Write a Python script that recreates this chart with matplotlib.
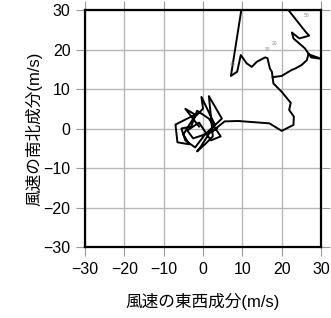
import matplotlib
matplotlib.use("Agg")
import matplotlib.pyplot as plt

# hodograph trace (u, v) in m/s
u = [-1.0, -4.5, -2.0, -4.0, -7.0, -6.5, -3.5, -5.0, -2.5, 0.0, -0.4, 3.0,
     -0.5, -1.5, 0.5, 2.5, 1.5, 4.8, 0.5, -2.5, -4.0, -1.0, 2.0, 4.5, 1.5,
     -1.5, -3.0, -5.5, -4.5, -2.0, 0.5, 3.5, 2.0, 5.5, 9.0, 16.9, 20.0, 23.0,
     23.1, 21.9, 22.3, 20.0, 17.9, 17.7,
     20.0, 22.5, 23.5, 25.1, 26.4, 26.8, 30.2, 27.5, 25.9, 24.5, 23.0,
     22.6, 24.5, 27.0, 25.9, 21.7, 21.0, 10.0, 9.9,
     7.1, 8.7, 9.6, 11.1, 12.4, 13.7, 15.8, 16.4, 17.0, 17.5, 17.7]
v = [0.5, 5.0, 3.5, 2.5, 1.0, -3.5, -4.0, -1.5, 2.5, 5.0, 8.0, 1.0,
     -4.5, -5.8, -4.0, -2.0, 8.2, 2.5, -1.5, -2.5, -0.5, 1.5, -3.0, -2.0, 2.5,
     4.5, 0.5, 0.0, -3.0, -4.8, -1.5, 0.0, -1.0, 1.8, 1.9, 1.3, -0.6, 0.9,
     3.0, 4.7, 6.5, 9.3, 11.4, 13.0,
     13.3, 14.8, 15.2, 16.1, 17.3, 18.8, 17.6, 18.0, 20.3, 21.5, 22.8,
     24.3, 22.8, 23.5, 24.7, 30.0, 33.0, 33.0, 31.0,
     13.3, 14.4, 18.6, 16.5, 15.6, 16.9, 18.0, 17.8, 15.2, 14.4, 13.0]

# small level labels along the trace
lab_text = ["50", "20", "30", "40"]
lab_u = [26.4, 18.3, 16.3, 7.6]
lab_v = [28.7, 21.6, 19.9, 16.3]

ticks = [-30, -20, -10, 0, 10, 20, 30]

font_list = ['Liberation Sans', 'Noto Sans CJK JP', 'DejaVu Sans']
plt.rcParams['font.family'] = font_list

fig = plt.figure(figsize=(3.31, 3.18), dpi=100)
ax = fig.add_axes([85 / 331, 1 - 247 / 318, 236 / 331, 237 / 318])

ax.plot(u, v, color='black', lw=1.4, zorder=3)
for t, x, y in zip(lab_text, lab_u, lab_v):
    ax.text(x, y, t, fontsize=3.5, color='#888888', ha='center', va='center', zorder=4)

ax.set_xlim(-30, 30)
ax.set_ylim(-30, 30)
ax.set_xticks(ticks)
ax.set_yticks(ticks)
ax.set_xticklabels([str(t).replace('-', '\u2212') for t in ticks])
ax.set_yticklabels([str(t).replace('-', '\u2212') for t in ticks])
ax.grid(True, color='#b8b8b8', lw=1.0, zorder=1)
ax.tick_params(direction='out', length=6.5, width=0.8, color='#999999',
               labelsize=11.5, pad=4, top=True, right=True)
for s in ax.spines.values():
    s.set_linewidth(1.6)
    s.set_color('black')

ax.set_xlabel('風速の東西成分(m/s)', fontsize=12, labelpad=12)
ax.set_ylabel('風速の南北成分(m/s)', fontsize=12)
ax.yaxis.set_label_coords(-0.18, 0.5)

fig.savefig('out.png', dpi=100)
